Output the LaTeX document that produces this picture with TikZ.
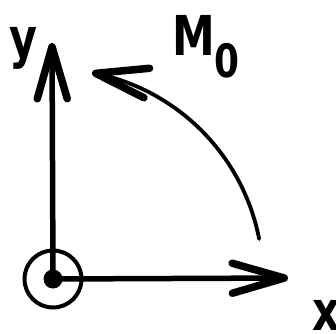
\documentclass[tikz,border=0pt]{standalone}
\usepackage{fontspec}
\setmainfont{DejaVu Sans}[FakeStretch=0.78]
\usetikzlibrary{arrows.meta,bending}
\tikzset{
  barb/.style={-{Straight Barb[length=52pt,width=30pt,line width=7.5pt,round]}},
  axislabel/.style={inner sep=0pt,font=\bfseries\fontsize{55}{55}\selectfont}
}
\begin{document}
\begin{tikzpicture}[x=1pt,y=1pt,line cap=round]
    \useasboundingbox (0,0) rectangle (336,333);
    \coordinate (O) at (53,54);
    \coordinate (X) at (288,55);
    \coordinate (Y) at (52,290);
    \draw[barb,line width=5.5pt] (O) -- (X);
    \draw[barb,line width=5.5pt] (O) -- (Y);
    \node[circle,draw,line width=4pt,minimum size=57pt,inner sep=0pt] (ring) at (O) {};
    \fill (O) circle (9.5pt);
    \draw[barb,line width=3.8pt] (O) ++(11:210) arc (11:79.3:210);
    \node[axislabel,anchor=base] (ylab) at (23.5,276) {y};
    \node[axislabel,anchor=base] (xlab) at (326,3) {x};
    \node[axislabel,anchor=base west] (moment) at (172,278)
        {M\raisebox{-22pt}{\fontsize{46}{46}\selectfont 0}};
\end{tikzpicture}
\end{document}
